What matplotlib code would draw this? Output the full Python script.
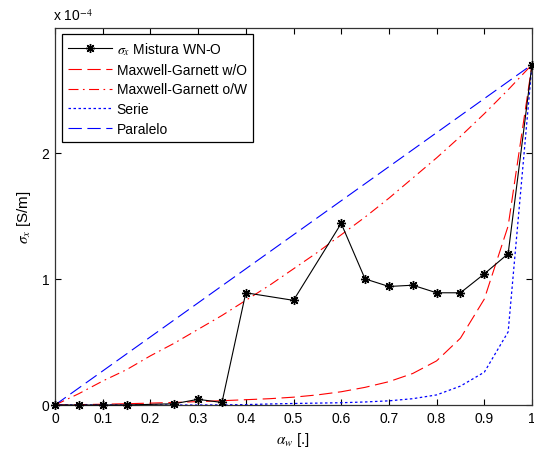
import matplotlib
matplotlib.use("Agg")
import matplotlib.pyplot as plt
from matplotlib.ticker import FixedLocator, FixedFormatter

# water fraction grid used by the models (sigma in units of 1e-4 S/m)
alpha_w = [0.0, 0.05, 0.1, 0.15, 0.2, 0.25, 0.3, 0.35, 0.4, 0.45, 0.5,
           0.55, 0.6, 0.65, 0.7, 0.75, 0.8, 0.85, 0.9, 0.95, 1.0]
mg_wo = [0.0, 0.003, 0.006, 0.01, 0.015, 0.02, 0.027, 0.034, 0.042, 0.05, 0.062,
         0.08, 0.105, 0.14, 0.185, 0.25, 0.35, 0.53, 0.84, 1.42, 2.70]
mg_ow = [0.0, 0.09, 0.19, 0.28, 0.39, 0.49, 0.60, 0.71, 0.83, 0.95, 1.08,
         1.21, 1.35, 1.49, 1.64, 1.80, 1.96, 2.13, 2.31, 2.50, 2.70]
serie = [0.0, 0.0, 0.0, 0.0, 0.0, 0.0, 0.0, 0.001, 0.003, 0.008, 0.012,
         0.015, 0.018, 0.024, 0.033, 0.05, 0.08, 0.15, 0.26, 0.58, 2.70]
paralelo = [0.0, 0.135, 0.27, 0.405, 0.54, 0.675, 0.81, 0.945, 1.08, 1.215, 1.35,
            1.485, 1.62, 1.755, 1.89, 2.025, 2.16, 2.295, 2.43, 2.565, 2.70]

# measured mixture
mix_alpha = [0.0, 0.05, 0.1, 0.15, 0.25, 0.3, 0.35, 0.4, 0.5, 0.6, 0.65,
             0.7, 0.75, 0.8, 0.85, 0.9, 0.95, 1.0]
mix_sigma = [0.0, 0.0, 0.0, 0.0, 0.01, 0.045, 0.02, 0.89, 0.83, 1.44, 1.00,
             0.94, 0.95, 0.89, 0.89, 1.04, 1.20, 2.70]

xticks = [0, 0.1, 0.2, 0.3, 0.4, 0.5, 0.6, 0.7, 0.8, 0.9, 1]
xticklabels = ["0", "0.1", "0.2", "0.3", "0.4", "0.5", "0.6", "0.7", "0.8", "0.9", "1"]
yticks = [0, 1, 2]
yticklabels = ["0", "1", "2"]

plt.rcParams["font.family"] = ["Liberation Sans", "DejaVu Sans"]
plt.rcParams["mathtext.fontset"] = "stix"
plt.rcParams["font.size"] = 10

fig = plt.figure(figsize=(5.34, 4.52), dpi=100)
ax = fig.add_axes([55 / 534, 46 / 452, 477 / 534, 377 / 452])

ax.plot(mix_alpha, mix_sigma, color="black", lw=0.8, marker=(8, 2, 0),
        markersize=6.5, markeredgewidth=1.0, clip_on=False, zorder=5,
        label=r"$\sigma_x$ Mistura WN-O")
ax.plot(alpha_w, mg_wo, color="#ff0000", lw=0.8, dashes=(12, 5),
        label="Maxwell-Garnett w/O")
ax.plot(alpha_w, mg_ow, color="#ff0000", lw=0.8, dashes=(9, 4, 1.5, 4),
        label="Maxwell-Garnett o/W")
ax.plot(alpha_w, serie, color="#0000ff", lw=0.9, dashes=(2, 2),
        label="Serie")
ax.plot(alpha_w, paralelo, color="#0000ff", lw=0.8, dashes=(12, 5),
        label="Paralelo")

ax.set_xlim(0, 1)
ax.set_ylim(0, 2.99)
ax.xaxis.set_major_locator(FixedLocator(xticks))
ax.xaxis.set_major_formatter(FixedFormatter(xticklabels))
ax.yaxis.set_major_locator(FixedLocator(yticks))
ax.yaxis.set_major_formatter(FixedFormatter(yticklabels))
ax.tick_params(direction="in", length=4, width=0.8, top=True, right=True,
               labelsize=10, pad=4)
for sp in ax.spines.values():
    sp.set_linewidth(0.9)
    sp.set_color("#333333")

ax.set_xlabel(r"$\alpha_w$ [.]", fontsize=11, labelpad=4)
ax.set_ylabel(r"$\sigma_x$ [S/m]", fontsize=11, labelpad=6)
fig.text(53 / 534, 1 - 21 / 452, r"x 10$^{-4}$", fontsize=10, ha="left", va="baseline")

leg = ax.legend(loc="upper left", bbox_to_anchor=(0.014, 0.985), fancybox=False,
                framealpha=1, edgecolor="black", handlelength=3.2,
                labelspacing=0.42, borderpad=0.45, handletextpad=0.3,
                borderaxespad=0.0, fontsize=10)
leg.get_frame().set_linewidth(0.9)

fig.savefig("out.png", dpi=100)
